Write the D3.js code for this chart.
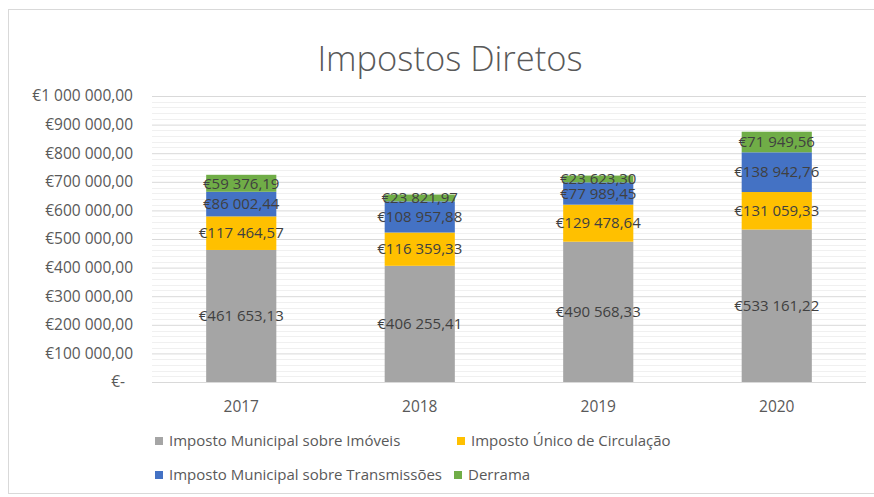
<!DOCTYPE html>
<meta charset="utf-8">
<script src="https://d3js.org/d3.v7.min.js"></script>
<style>
  body { margin: 0; background: #fff; }
  text { font-family: "Open Sans", Lato, sans-serif; }
</style>
<div id="viz"></div>
<script>
// data
var years = ["2017", "2018", "2019", "2020"];
var seriesNames = ["Imposto Municipal sobre Imóveis", "Imposto Único de Circulação",
                   "Imposto Municipal sobre Transmissões", "Derrama"];
var imi = [461653.13, 406255.41, 490568.33, 533161.22];
var iuc = [117464.57, 116359.33, 129478.64, 131059.33];
var imt = [86002.44, 108957.88, 77989.45, 138942.76];
var derrama = [59376.19, 23821.97, 23623.30, 71949.56];
var yTicks = [0, 100000, 200000, 300000, 400000, 500000, 600000, 700000, 800000, 900000, 1000000];
var colors = ["#a5a5a5", "#ffc000", "#4472c4", "#70ad47"];

var W = 874, H = 497;
var margin = {top: 96, right: 8, bottom: 115, left: 152};

var svg = d3.select("#viz").append("svg")
    .attr("width", W).attr("height", H);

// chart frame
svg.append("rect")
    .attr("x", 8.5).attr("y", 9.5)
    .attr("width", W).attr("height", 484)
    .attr("fill", "#fff").attr("stroke", "#d9d9d9");

var x = d3.scaleBand().domain(years)
    .range([margin.left, W - margin.right])
    .paddingInner(0.607).paddingOuter(0.3035);
var y = d3.scaleLinear().domain([0, 1000000])
    .range([H - margin.bottom, margin.top]);

var loc = d3.formatLocale({decimal: ",", thousands: "\u00a0", grouping: [3], currency: ["€", ""]});
var fmt = loc.format("$,.2f");
function money(v) { return v === 0 ? "€-" : fmt(v).replace(/\u00a0/g, " "); }

// minor gridlines
svg.append("g").selectAll("line")
  .data(d3.range(0, 1000001, 20000).filter(function (v) { return v % 100000 !== 0; }))
  .join("line")
    .attr("x1", margin.left).attr("x2", W - margin.right)
    .attr("y1", function (d) { return Math.round(y(d)) + 0.5; })
    .attr("y2", function (d) { return Math.round(y(d)) + 0.5; })
    .attr("stroke", "#f0f0f0");

// y axis with major gridlines
var yAxis = svg.append("g")
    .attr("transform", "translate(" + margin.left + ",0)")
    .call(d3.axisLeft(y).tickValues(yTicks).tickFormat(money)
      .tickSize(-(W - margin.right - margin.left)).tickPadding(19));
yAxis.select(".domain").remove();
yAxis.selectAll(".tick line").attr("stroke", "#d9d9d9");
yAxis.selectAll(".tick text")
    .attr("fill", "#595959").style("font-size", "15.5px")
    .attr("dx", function (d) { return d === 0 ? -8 : 0; });

// stacked bars
var table = years.map(function (yr, i) {
  return {year: yr, s0: imi[i], s1: iuc[i], s2: imt[i], s3: derrama[i]};
});
var stack = d3.stack().keys(["s0", "s1", "s2", "s3"])(table);

var layers = svg.append("g").selectAll("g")
  .data(stack).join("g")
    .attr("fill", function (d, i) { return colors[i]; });

layers.selectAll("rect")
  .data(function (d) { return d; })
  .join("rect")
    .attr("x", function (d) { return x(d.data.year); })
    .attr("width", x.bandwidth())
    .attr("y", function (d) { return y(d[1]); })
    .attr("height", function (d) { return y(d[0]) - y(d[1]); });

// data labels
layers.selectAll("text")
  .data(function (d) { return d; })
  .join("text")
    .attr("x", function (d) { return x(d.data.year) + x.bandwidth() / 2; })
    .attr("y", function (d) { return (y(d[0]) + y(d[1])) / 2; })
    .attr("dy", "0.35em")
    .attr("text-anchor", "middle")
    .attr("fill", "#404040")
    .style("font-size", "15px")
    .text(function (d) { return money(d[1] - d[0]); });

// baseline
svg.append("line")
    .attr("x1", margin.left).attr("x2", W - margin.right)
    .attr("y1", Math.round(y(0)) + 0.5).attr("y2", Math.round(y(0)) + 0.5)
    .attr("stroke", "#d9d9d9");

// x axis
var xAxis = svg.append("g")
    .attr("transform", "translate(0," + y(0) + ")")
    .call(d3.axisBottom(x).tickSize(0).tickPadding(19));
xAxis.select(".domain").remove();
xAxis.selectAll(".tick text").attr("fill", "#595959").style("font-size", "15.5px");

// title
svg.append("text")
    .attr("x", 450).attr("y", 71)
    .attr("text-anchor", "middle")
    .attr("fill", "#595959")
    .style("font-size", "34.5px").style("font-weight", 300)
    .text("Impostos Diretos");

// legend
var legendRows = [[0, 1], [2, 3]];
var legendCols = [[155, 457], [155, 454]];
var legendY = [441, 475];
legendRows.forEach(function (row, r) {
  row.forEach(function (si, c) {
    var g = svg.append("g")
        .attr("transform", "translate(" + legendCols[r][c] + "," + legendY[r] + ")");
    g.append("rect").attr("x", 0).attr("y", -4).attr("width", 8).attr("height", 8)
      .attr("fill", colors[si]);
    g.append("text").attr("x", 14).attr("dy", "0.35em")
      .attr("fill", "#595959").style("font-size", "15px")
      .text(seriesNames[si]);
  });
});
</script>
